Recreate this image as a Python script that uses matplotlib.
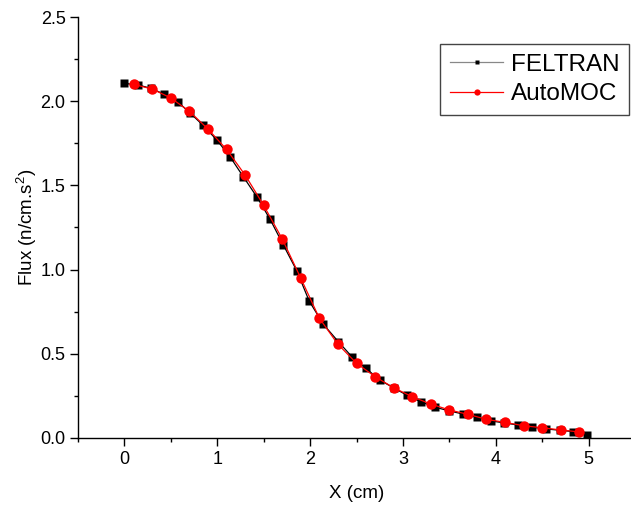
import numpy as np
import matplotlib
matplotlib.use('Agg')
import matplotlib.pyplot as plt
from matplotlib.ticker import MultipleLocator

plt.rcParams['font.family'] = ['Liberation Sans', 'DejaVu Sans']
plt.rcParams['mathtext.default'] = 'regular'

# FELTRAN (black squares)
x_feltran = [0.0, 0.15, 0.283, 0.43, 0.58, 0.71, 0.844, 0.995, 1.138, 1.281,
             1.426, 1.569, 1.712, 1.857, 1.99, 2.143, 2.305, 2.45, 2.60, 2.753,
             2.90, 3.04, 3.19, 3.35, 3.50, 3.645, 3.796, 3.945, 4.09, 4.244,
             4.395, 4.543, 4.69, 4.837, 4.988]
y_feltran = [2.108, 2.098, 2.079, 2.043, 1.995, 1.93, 1.860, 1.771, 1.671, 1.552,
             1.433, 1.299, 1.146, 0.992, 0.8125, 0.674, 0.570, 0.481, 0.412, 0.342,
             0.295, 0.253, 0.213, 0.180, 0.158, 0.140, 0.120, 0.099, 0.087, 0.074,
             0.061, 0.051, 0.043, 0.035, 0.012]

# AutoMOC (red circles)
x_automoc = [0.1, 0.3, 0.5, 0.7, 0.9, 1.1, 1.3, 1.5, 1.7, 1.9, 2.1, 2.3, 2.5,
             2.7, 2.9, 3.1, 3.3, 3.5, 3.7, 3.9, 4.1, 4.3, 4.5, 4.7, 4.9]
y_automoc = [2.102, 2.074, 2.021, 1.942, 1.836, 1.715, 1.5625, 1.382, 1.182, 0.948,
             0.710, 0.555, 0.442, 0.362, 0.296, 0.243, 0.199, 0.164, 0.138, 0.108,
             0.090, 0.070, 0.058, 0.045, 0.033]

fig = plt.figure(figsize=(6.31, 5.09), dpi=100)
ax = fig.add_axes([78 / 631, 71.5 / 509, 557 / 631, 420 / 509])

ax.plot(x_feltran, y_feltran, color='black', lw=0.9, marker='s', ms=6,
        mec='none', label='FELTRAN')
ax.plot(x_automoc, y_automoc, color='red', lw=0.9, marker='o', ms=7.5,
        mec='none', label='AutoMOC')

ax.set_xlim(-0.5, 5.5)
ax.set_ylim(0, 2.5)
ax.xaxis.set_major_locator(MultipleLocator(1))
ax.xaxis.set_minor_locator(MultipleLocator(0.5))
ax.yaxis.set_major_locator(MultipleLocator(0.5))
ax.yaxis.set_minor_locator(MultipleLocator(0.25))
ax.yaxis.set_major_formatter(plt.FormatStrFormatter('%.1f'))

for s in ['top', 'right']:
    ax.spines[s].set_visible(False)
for s in ['left', 'bottom']:
    ax.spines[s].set_linewidth(1.0)

ax.tick_params(which='major', direction='out', length=6, width=1,
               labelsize=13, colors='black', pad=3)
ax.tick_params(which='minor', direction='out', length=3, width=1)
ax.tick_params(axis='x', which='major', pad=4)

ax.set_xlabel('X (cm)', fontsize=13.5, labelpad=12)
ax.set_ylabel('Flux (n/cm.s$^2$)', fontsize=13.5, labelpad=1)

leg = ax.legend(loc='upper right', bbox_to_anchor=(629 / 631, 1 - 44 / 509),
                bbox_transform=fig.transFigure, fontsize=17.5, fancybox=False,
                edgecolor='#444444', framealpha=1, markerscale=0.6,
                handlelength=2.2, handletextpad=0.3, borderpad=0.4,
                labelspacing=0.3, borderaxespad=0)
leg.get_frame().set_linewidth(1.0)
leg.get_lines()[0].set_color('#888888')
leg.get_lines()[0].set_markerfacecolor('black')

fig.savefig('out.png', dpi=100)
